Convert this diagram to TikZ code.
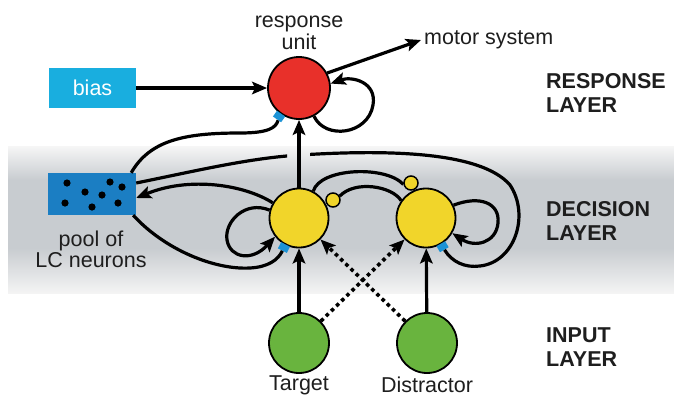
\documentclass[tikz,border=0pt]{standalone}
\usepackage{fontspec}
\setmainfont{Liberation Sans}
\usetikzlibrary{arrows.meta,calc}
\definecolor{redc}{HTML}{E8302A}
\definecolor{yelc}{HTML}{F1D52A}
\definecolor{grnc}{HTML}{69B43E}
\definecolor{biasc}{HTML}{19AEDF}
\definecolor{poolc}{HTML}{1B7EC3}
\definecolor{markc}{HTML}{1C93D6}
\definecolor{txtc}{HTML}{1E1E1E}
\definecolor{bandt}{HTML}{F6F6F6}
\definecolor{bandm}{HTML}{C8CCD0}
\definecolor{bandb}{HTML}{F4F4F4}
\begin{document}
\begin{tikzpicture}[x=1pt,y=-1pt,
  conn/.style={line width=3.2pt, black},
  arr/.style={conn, -{Stealth[length=15pt,width=12.5pt,inset=3pt]}},
  unit/.style={circle, draw=black, line width=1.8pt, inner sep=0pt},
  mk/.style={rectangle, fill=markc, minimum width=10pt, minimum height=7pt, inner sep=0pt},
  lbl/.style={font=\fontsize{21.5}{22}\selectfont, text=txtc, align=center, inner sep=0pt},
  layer/.style={font=\fontsize{21.5}{24}\selectfont\bfseries, text=txtc, align=left, anchor=west, inner sep=0pt}]
\useasboundingbox (0,0) rectangle (674,400);
\fill[white] (0,0) rectangle (674,400);
% decision band (soft gradient)
\shade[top color=bandt, bottom color=bandm] (8,146) rectangle (674,180);
\fill[bandm] (8,179.5) rectangle (674,248.5);
\shade[top color=bandm, bottom color=bandb] (8,248) rectangle (674,293);

% units
\node[unit, fill=redc, minimum size=62pt] (resp) at (299,88) {};
\node[unit, fill=yelc, minimum size=59pt] (lyel) at (299,218) {};
\node[unit, fill=yelc, minimum size=59pt] (ryel) at (426,218) {};
\node[unit, fill=grnc, minimum size=60pt] (tgt) at (299,343) {};
\node[unit, fill=grnc, minimum size=60pt] (dis) at (427,343) {};
\node[unit, fill=yelc, minimum size=14pt, line width=1.5pt] (lsm) at (333,200) {};
\node[unit, fill=yelc, minimum size=14pt, line width=1.5pt] (rsm) at (411,183) {};

% boxes
\node[rectangle, fill=biasc, minimum width=87pt, minimum height=40pt, inner sep=0pt,
      text=white, font=\fontsize{21.5}{22}\selectfont] (bias) at (92.5,88) {bias};
\node[rectangle, fill=poolc, minimum width=88pt, minimum height=42pt, inner sep=0pt] (pool) at (92,194) {};
\foreach \px/\py in {67/183, 85/192, 102/195, 110/182, 122/187, 65/203, 92/207, 118/203}
  \fill[black] (\px,\py) circle (3.6pt);

% markers (neuromodulatory synapses)
\node[mk, rotate=-35] (m1) at ($(resp.center)!1.09!(resp.235)$) {};
\node[mk, rotate=-27] (m2) at ($(lyel.center)!1.09!(lyel.243)$) {};
\node[mk, rotate=30] (m3) at ($(ryel.center)!1.09!(ryel.300)$) {};

% labels
\node[lbl] (rlab) at (299,33) {response\\unit};
\node[lbl, anchor=west] (motor) at (424,40) {motor system};
\node[lbl, font=\fontsize{21.5}{21}\selectfont] (poollab) at (91,249) {pool of\\LC neurons};
\node[lbl] (tlab) at (299,385) {Target};
\node[lbl] (dlab) at (427,385) {Distractor};
\node[layer] (l1) at (546,93) {RESPONSE\\LAYER};
\node[layer] (l2) at (546,221) {DECISION\\LAYER};
\node[layer] (l3) at (546,347) {INPUT\\LAYER};

% connectors
\draw[arr] (bias) -- (resp);
\draw[arr] (resp.28) -- ([xshift=-3pt]motor.west);
\draw[arr] (lyel) -- (resp);
\draw[arr] (tgt) -- (lyel);
\draw[arr] (dis) -- (ryel);
\draw[arr, line width=3.6pt, dash pattern=on 3.6pt off 3.6pt] (tgt.45) -- (ryel.225);
\draw[arr, line width=3.6pt, dash pattern=on 3.6pt off 3.6pt] (dis.135) -- (lyel.-45);

% self loops
\draw[arr] (resp.-62) .. controls (325,140) and (368,135) .. (373,105)
           .. controls (377,82) and (352,76) .. (resp.8);
\draw[arr] (lyel.165) .. controls (245,200) and (224,222) .. (227,240)
           .. controls (230,258) and (252,262) .. (lyel.218);
\draw[arr] (ryel.25) .. controls (480,195) and (500,203) .. (498,223)
           .. controls (496,243) and (475,248) .. (ryel.-30);

% mutual inhibition
\draw[conn] (lyel.62) .. controls (320,168) and (385,165) .. (rsm.190);
\draw[conn] (ryel.145) .. controls (392,186) and (355,180) .. (lsm.30);

% decision -> LC
\draw[arr] (lyel.150) .. controls (245,185) and (190,176) .. ([yshift=-4pt]pool.east);

% LC -> units
\draw[conn] ([xshift=-5pt]pool.north east) .. controls (150,140) and (185,133) .. (240,133)
            .. controls (268,133) and (276,128) .. (m1);
\draw[conn] ([xshift=-3pt]pool.south east) .. controls (165,250) and (215,270) .. (250,268)
            .. controls (268,267) and (278,260) .. (m2);
\begin{scope}
  \clip (0,0) rectangle (287,400) (310,0) rectangle (674,400);
  \draw[conn] ([yshift=11pt]pool.east) .. controls (200,170) and (250,158) .. (300,155)
              .. controls (380,150) and (480,150) .. (510,185)
              .. controls (530,215) and (515,262) .. (480,266)
              .. controls (465,268) and (452,262) .. (m3);
\end{scope}
\end{tikzpicture}
\end{document}
